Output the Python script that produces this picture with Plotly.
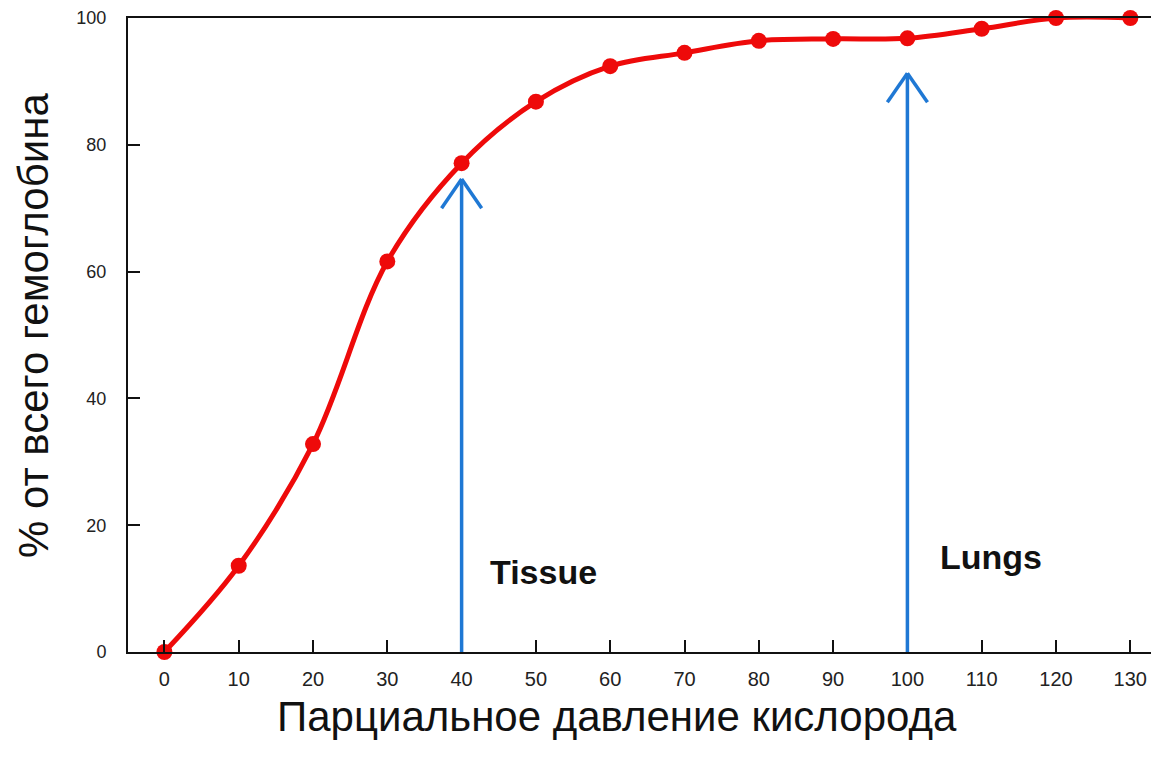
import plotly.graph_objects as go

# data
pressure = [0, 10, 20, 30, 40, 50, 60, 70, 80, 90, 100, 110, 120, 130]
saturation = [0, 13.6, 32.8, 61.6, 77.1, 86.8, 92.4, 94.5, 96.4, 96.7, 96.8, 98.3, 100, 100]
x_ticks = [0, 10, 20, 30, 40, 50, 60, 70, 80, 90, 100, 110, 120, 130]
y_ticks = [0, 20, 40, 60, 80, 100]
arrow_x = [40, 100]
arrow_top = [74.6, 91.3]
arrow_labels = ["Tissue", "Lungs"]
label_x = [51, 111.3]
label_y = [12.6, 15.0]
x_title = "Парциальное давление кислорода"
y_title = "% от всего гемоглобина"

RED = "#ee0a0a"
BLUE = "#1f78d4"
FONT = "Liberation Sans, Arial, sans-serif"

# page offset of the plot div (default body margin)
OFF = 8
W, H = 1159, 758
PL, PT, PB = 128, 18, 652          # page pixel edges of plot area
ml, mt = PL - OFF, PT - OFF
mb = H - (PB - OFF)
plot_w = W - ml
plot_h = PB - PT
px_per_unit = 7.43
x_min = -4.9
x_max = x_min + plot_w / px_per_unit

def paper_x(px):
    return (px - PL) / plot_w

def paper_y(py):
    return (PB - py) / plot_h

fig = go.Figure()
fig.add_trace(go.Scatter(
    x=pressure, y=saturation, mode="lines+markers",
    line=dict(color=RED, width=5, shape="spline", smoothing=1.0),
    marker=dict(color=RED, size=16),
    cliponaxis=False, showlegend=False,
))

shapes = []
for ax, at in zip(arrow_x, arrow_top):
    shapes.append(dict(type="line", x0=ax, x1=ax, y0=0, y1=at, xref="x", yref="y",
                       line=dict(color=BLUE, width=3.5)))
    for s in (-1, 1):
        shapes.append(dict(type="line", x0=ax, x1=ax + s * 2.7, y0=at, y1=at - 4.6,
                           xref="x", yref="y", line=dict(color=BLUE, width=3.5)))

annotations = []
for t, lx, ly in zip(arrow_labels, label_x, label_y):
    annotations.append(dict(x=lx, y=ly, xref="x", yref="y", text=t, showarrow=False,
                            font=dict(family=FONT, size=34, color="#111", weight="bold")))
annotations.append(dict(x=paper_x(617), y=paper_y(716), xref="paper", yref="paper", text=x_title,
                        showarrow=False, xanchor="center", yanchor="middle",
                        font=dict(family=FONT, size=42, color="#111")))
annotations.append(dict(x=paper_x(33), y=paper_y(326), xref="paper", yref="paper",
                        text=y_title, textangle=-90, showarrow=False,
                        xanchor="center", yanchor="middle",
                        font=dict(family=FONT, size=42, color="#111")))

fig.update_layout(
    width=W, height=H,
    margin=dict(l=ml, r=0, t=mt, b=mb, autoexpand=False),
    paper_bgcolor="white", plot_bgcolor="white",
    shapes=shapes, annotations=annotations,
)

fig.update_xaxes(range=[x_min, x_max], tickvals=x_ticks, ticks="inside", ticklen=12, tickwidth=2,
                 tickcolor="#111", showline=True, linecolor="#111", linewidth=2, mirror=True,
                 showgrid=False, zeroline=False, ticklabelstandoff=8, ticklabeloverflow="allow",
                 tickfont=dict(family=FONT, size=20, color="#222"))
fig.update_yaxes(range=[0, 100], tickvals=y_ticks, ticks="inside", ticklen=12, tickwidth=2,
                 tickcolor="#111", showline=True, linecolor="#111", linewidth=2,
                 showgrid=False, zeroline=False, ticklabelstandoff=16, ticklabeloverflow="allow",
                 tickfont=dict(family=FONT, size=18, color="#222"))

fig.write_html("out.html")
